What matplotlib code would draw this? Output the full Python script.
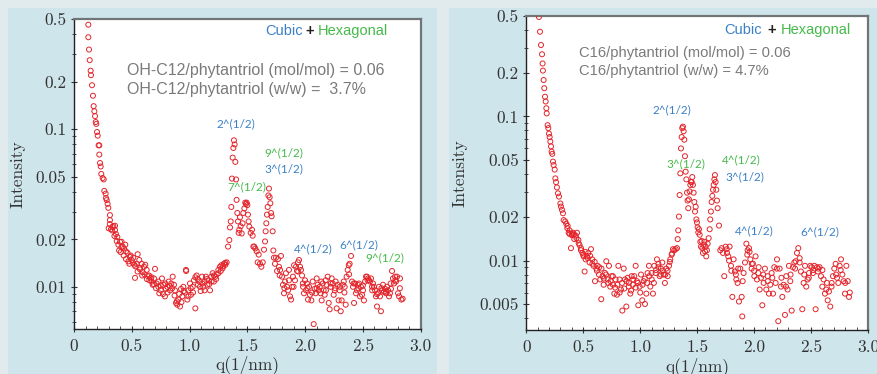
import matplotlib
matplotlib.use("Agg")
import matplotlib.pyplot as plt
from matplotlib.patches import Rectangle
from matplotlib.ticker import FixedLocator, FixedFormatter, LogLocator, MultipleLocator, NullFormatter


# panel 1 : OH-C12 / phytantriol
q1 = [0.124, 0.124, 0.130, 0.136, 0.144, 0.147, 0.156, 0.164, 0.170, 0.176, 0.182, 0.188, 0.193, 0.199,
      0.205, 0.213, 0.219, 0.219, 0.225, 0.231, 0.236, 0.248, 0.257, 0.262, 0.274, 0.277, 0.283, 0.291,
      0.297, 0.311, 0.311, 0.320, 0.332, 0.340, 0.355, 0.355, 0.363, 0.375, 0.384, 0.398, 0.412, 0.404,
      0.421, 0.433, 0.444, 0.450, 0.464, 0.479, 0.485, 0.499, 0.513, 0.522, 0.528, 0.542, 0.551, 0.565,
      0.571, 0.586, 0.594, 0.606, 0.617, 0.629, 0.637, 0.652, 0.663, 0.672, 0.681, 0.692, 0.701, 0.715,
      0.730, 0.738, 0.750, 0.761, 0.773, 0.787, 0.796, 0.808, 0.819, 0.831, 0.842, 0.854, 0.865, 0.874,
      0.883, 0.894, 0.903, 0.917, 0.926, 0.937, 0.946, 0.960, 0.969, 0.981, 0.989, 1.004, 1.012, 1.027,
      1.038, 1.050, 1.061, 1.073, 1.085, 1.096, 1.108, 1.119, 1.131, 1.142, 1.154, 1.165, 1.177, 1.188,
      1.200, 1.211, 1.223, 1.234, 1.249, 1.263, 1.275, 1.286, 1.298, 1.309, 1.321, 1.333, 1.344, 1.350,
      1.356, 1.361, 1.367, 1.373, 1.379, 1.384, 1.390, 1.396, 1.402, 1.407, 1.413, 1.419, 1.425, 1.430,
      1.436, 1.442, 1.451, 1.459, 1.465, 1.474, 1.482, 1.488, 1.494, 1.500, 1.505, 1.511, 1.517, 1.529,
      1.540, 1.546, 1.552, 1.560, 1.569, 1.581, 1.589, 1.598, 1.609, 1.621, 1.633, 1.644, 1.653, 1.658,
      1.664, 1.670, 1.676, 1.682, 1.687, 1.693, 1.699, 1.705, 1.710, 1.719, 1.725, 1.730, 1.739, 1.748,
      1.757, 1.765, 1.774, 1.783, 1.791, 1.800, 1.808, 1.817, 1.826, 1.834, 1.843, 1.852, 1.860, 1.869,
      1.878, 1.886, 1.895, 1.904, 1.912, 1.921, 1.930, 1.938, 1.947, 1.956, 1.964, 1.973, 1.982, 1.990,
      1.999, 2.008, 2.016, 2.025, 2.034, 2.042, 2.054, 2.065, 2.074, 2.083, 2.091, 2.100, 2.108, 2.117,
      2.126, 2.134, 2.143, 2.152, 2.160, 2.169, 2.178, 2.186, 2.195, 2.204, 2.212, 2.221, 2.230, 2.238,
      2.247, 2.256, 2.264, 2.273, 2.281, 2.290, 2.299, 2.308, 2.316, 2.325, 2.334, 2.342, 2.351, 2.359,
      2.368, 2.377, 2.385, 2.397, 2.406, 2.414, 2.423, 2.432, 2.440, 2.449, 2.457, 2.466, 2.475, 2.483,
      2.492, 2.501, 2.509, 2.518, 2.527, 2.535, 2.544, 2.553, 2.561, 2.570, 2.579, 2.587, 2.596, 2.605,
      2.613, 2.622, 2.631, 2.639, 2.648, 2.656, 2.665, 2.674, 2.682, 2.691, 2.700, 2.708, 2.717, 2.726,
      2.734, 2.743, 2.752, 2.760, 2.769, 2.778, 2.786, 2.795, 2.804, 2.813, 2.821, 2.833, 2.844,
      0.30, 0.31, 0.33, 0.35, 0.37, 0.39, 0.41, 0.43, 0.45, 0.47, 0.49, 0.51, 0.53, 0.55, 0.57, 0.59,
      0.61, 0.63, 0.65, 0.67, 0.69, 0.71, 0.73, 0.75, 0.77, 0.79, 0.81, 0.83, 0.85, 0.87, 0.89, 0.91,
      0.93, 0.95, 0.97, 0.99, 1.01, 1.03, 1.05, 1.07, 1.09, 1.11, 1.13, 1.15, 1.17, 1.19, 1.21, 1.23,
      1.25, 1.27, 1.29, 1.31,
      1.78, 1.82, 1.86, 1.90, 1.94, 1.98, 2.02, 2.06, 2.10, 2.14, 2.18, 2.22, 2.26, 2.30, 2.34, 2.38,
      2.42, 2.46, 2.50, 2.54, 2.58, 2.62, 2.66, 2.70, 2.74, 2.78, 2.82]
i1 = [0.46, 0.383, 0.32, 0.274, 0.235, 0.22, 0.19, 0.163, 0.14, 0.13, 0.121, 0.111, 0.108, 0.096,
      0.091, 0.079, 0.079, 0.069, 0.061, 0.058, 0.052, 0.049, 0.048, 0.0406, 0.039, 0.0366, 0.0355, 0.0336,
      0.0317, 0.0285, 0.0265, 0.0232, 0.024, 0.0243, 0.0229, 0.0244, 0.0216, 0.0207, 0.0185, 0.0193, 0.0193, 0.0166,
      0.018, 0.0175, 0.0185, 0.0168, 0.0164, 0.014, 0.0155, 0.0148, 0.0153, 0.0138, 0.0114, 0.014, 0.0161, 0.0148,
      0.0129, 0.014, 0.0124, 0.0134, 0.0138, 0.0128, 0.0117, 0.011, 0.0113, 0.0108, 0.0103, 0.0113, 0.013, 0.0105,
      0.01, 0.0091, 0.0095, 0.0113, 0.0103, 0.0087, 0.0097, 0.01, 0.0108, 0.0095, 0.0105, 0.0116, 0.0103, 0.0095,
      0.0079, 0.0077, 0.0083, 0.0075, 0.0097, 0.0087, 0.01, 0.0092, 0.0128, 0.0083, 0.0095, 0.0105, 0.0089, 0.01,
      0.011, 0.0073, 0.0118, 0.0103, 0.0108, 0.0094, 0.0116, 0.01, 0.0108, 0.0116, 0.0103, 0.011, 0.0095, 0.0116,
      0.0122, 0.0108, 0.0116, 0.012, 0.0128, 0.0134, 0.0137, 0.0131, 0.014, 0.0142, 0.0143, 0.018, 0.0198, 0.0238,
      0.026, 0.0321, 0.0486, 0.066, 0.076, 0.085, 0.08, 0.062, 0.048, 0.0356, 0.0294, 0.026, 0.022, 0.023,
      0.0276, 0.0242, 0.0218, 0.0253, 0.0294, 0.0314, 0.0342, 0.0335, 0.0342, 0.033, 0.0287, 0.026, 0.0241, 0.022,
      0.023, 0.0211, 0.018, 0.018, 0.0175, 0.0168, 0.0143, 0.016, 0.014, 0.0134, 0.0143, 0.0172, 0.0194, 0.0225,
      0.0253, 0.0287, 0.0321, 0.038, 0.042, 0.037, 0.0339, 0.0294, 0.028, 0.0225, 0.017, 0.0153, 0.014, 0.0153,
      0.0126, 0.015, 0.0134, 0.0128, 0.0157, 0.0116, 0.0103, 0.0091, 0.0108, 0.0122, 0.01, 0.0095, 0.0128, 0.0087,
      0.0083, 0.01, 0.0116, 0.0137, 0.011, 0.0134, 0.0126, 0.0143, 0.0148, 0.0134, 0.0128, 0.0118, 0.01, 0.0091,
      0.011, 0.0095, 0.0105, 0.0083, 0.01, 0.0089, 0.0082, 0.0108, 0.0058, 0.0097, 0.0091, 0.0113, 0.0103, 0.0095,
      0.01, 0.0091, 0.0082, 0.0105, 0.0095, 0.0089, 0.011, 0.0103, 0.0116, 0.0079, 0.0072, 0.01, 0.0113, 0.0105,
      0.0089, 0.0095, 0.0108, 0.0073, 0.0103, 0.0082, 0.0095, 0.007, 0.0082, 0.0103, 0.0108, 0.01, 0.0077, 0.0116,
      0.0128, 0.0137, 0.014, 0.0157, 0.0108, 0.01, 0.0079, 0.0105, 0.0091, 0.0095, 0.0103, 0.0105, 0.0087, 0.01,
      0.0089, 0.0095, 0.0082, 0.0108, 0.0116, 0.0116, 0.0113, 0.011, 0.0108, 0.0113, 0.01, 0.0105, 0.01, 0.0095,
      0.0087, 0.0075, 0.0091, 0.01, 0.0087, 0.007, 0.0095, 0.0103, 0.0093, 0.0097, 0.0091, 0.01, 0.0095, 0.0087,
      0.0091, 0.0097, 0.0126, 0.0113, 0.0105, 0.0116, 0.0108, 0.0116, 0.0091, 0.0087, 0.0113, 0.0083, 0.0084,
      0.0235, 0.025, 0.0228, 0.021, 0.0195, 0.017, 0.0178, 0.0158, 0.015, 0.0145, 0.0158, 0.0142, 0.0135, 0.0125, 0.0132, 0.0118,
      0.012, 0.0112, 0.0118, 0.0115, 0.0104, 0.0098, 0.0108, 0.0102, 0.009, 0.0105, 0.0092, 0.0101, 0.0098, 0.0088, 0.0081, 0.009,
      0.008, 0.0094, 0.0126, 0.0087, 0.0098, 0.0092, 0.0115, 0.0112, 0.01, 0.0105, 0.0095, 0.0112, 0.0104, 0.0108, 0.0118, 0.0112,
      0.0122, 0.0126, 0.0135, 0.0138,
      0.0118, 0.0098, 0.011, 0.01, 0.0125, 0.0105, 0.0098, 0.0092, 0.0098, 0.0108, 0.0095, 0.0105, 0.0098, 0.01, 0.0092, 0.012,
      0.0105, 0.0098, 0.0102, 0.011, 0.0095, 0.009, 0.0098, 0.0093, 0.0105, 0.011, 0.0098]

# panel 2 : C16 / phytantriol
q2 = [0.111, 0.120, 0.129, 0.138, 0.143, 0.146, 0.152, 0.158, 0.164, 0.170, 0.176, 0.179, 0.187, 0.193,
      0.199, 0.205, 0.211, 0.217, 0.222, 0.228, 0.234, 0.240, 0.249, 0.255, 0.261, 0.269, 0.278, 0.287,
      0.299, 0.304, 0.313, 0.322, 0.328, 0.342, 0.351, 0.363, 0.372, 0.380, 0.392, 0.401, 0.410, 0.421,
      0.433, 0.445, 0.457, 0.468, 0.480, 0.492, 0.503, 0.512, 0.521, 0.533, 0.544, 0.556, 0.568, 0.579,
      0.591, 0.603, 0.615, 0.626, 0.638, 0.650, 0.658, 0.670, 0.679, 0.691, 0.702, 0.714, 0.726, 0.737,
      0.749, 0.761, 0.773, 0.784, 0.796, 0.808, 0.819, 0.831, 0.843, 0.855, 0.866, 0.878, 0.890, 0.901,
      0.913, 0.925, 0.936, 0.948, 0.960, 0.972, 0.983, 0.995, 1.007, 1.018, 1.030, 1.042, 1.054, 1.065,
      1.077, 1.089, 1.101, 1.112, 1.124, 1.136, 1.147, 1.159, 1.171, 1.182, 1.194, 1.206, 1.217, 1.229,
      1.241, 1.253, 1.264, 1.276, 1.288, 1.299, 1.311, 1.323, 1.329, 1.334, 1.340, 1.346, 1.352, 1.358,
      1.364, 1.369, 1.375, 1.381, 1.387, 1.393, 1.399, 1.405, 1.411, 1.416, 1.422, 1.428, 1.434, 1.440,
      1.446, 1.452, 1.457, 1.463, 1.469, 1.475, 1.481, 1.487, 1.493, 1.498, 1.504, 1.510, 1.516, 1.522,
      1.528, 1.534, 1.539, 1.545, 1.551, 1.557, 1.563, 1.569, 1.574, 1.580, 1.586, 1.592, 1.601, 1.610,
      1.615, 1.621, 1.627, 1.633, 1.639, 1.645, 1.651, 1.656, 1.662, 1.668, 1.674, 1.680, 1.692, 1.703,
      1.715, 1.727, 1.738, 1.750, 1.762, 1.773, 1.785, 1.797, 1.809, 1.820, 1.832, 1.844, 1.855, 1.867,
      1.879, 1.891, 1.896, 1.908, 1.920, 1.932, 1.943, 1.955, 1.967, 1.978, 1.990, 2.002, 2.013, 2.025,
      2.037, 2.049, 2.060, 2.072, 2.084, 2.095, 2.107, 2.119, 2.130, 2.142, 2.154, 2.166, 2.177, 2.189,
      2.201, 2.212, 2.224, 2.236, 2.248, 2.259, 2.271, 2.283, 2.294, 2.306, 2.318, 2.330, 2.341, 2.353,
      2.365, 2.376, 2.388, 2.400, 2.411, 2.423, 2.435, 2.447, 2.458, 2.470, 2.482, 2.493, 2.505, 2.517,
      2.529, 2.540, 2.552, 2.564, 2.575, 2.587, 2.599, 2.610, 2.622, 2.634, 2.646, 2.657, 2.669, 2.681,
      2.692, 2.704, 2.716, 2.728, 2.739, 2.751, 2.763, 2.775, 2.786, 2.798, 2.810, 2.822, 2.833,
      0.36, 0.38, 0.40, 0.42, 0.44, 0.46, 0.48, 0.50, 0.52, 0.54, 0.56, 0.58, 0.60, 0.62, 0.64, 0.66,
      0.68, 0.70, 0.72, 0.74, 0.76, 0.78, 0.80, 0.82, 0.84, 0.86, 0.88, 0.90, 0.92, 0.94, 0.96, 0.98,
      1.00, 1.02, 1.04, 1.06, 1.08, 1.10, 1.12, 1.14, 1.16, 1.18, 1.20, 1.22, 1.24, 1.26, 1.28,
      1.76, 1.78, 1.80, 1.84, 1.86, 1.90, 1.94, 1.96, 1.98, 2.00, 2.04, 2.08, 2.12, 2.16, 2.20, 2.24,
      2.28, 2.32, 2.36, 2.40, 2.44, 2.48, 2.52, 2.56, 2.60, 2.64, 2.68, 2.72, 2.76, 2.80, 2.84]
i2 = [0.49, 0.387, 0.313, 0.27, 0.233, 0.208, 0.179, 0.157, 0.137, 0.127, 0.114, 0.105, 0.087, 0.083,
      0.076, 0.072, 0.067, 0.062, 0.057, 0.055, 0.0486, 0.046, 0.0428, 0.0372, 0.035, 0.0322, 0.0293, 0.0278,
      0.0249, 0.0237, 0.0225, 0.0213, 0.0191, 0.0187, 0.018, 0.0174, 0.0156, 0.0153, 0.0122, 0.0153, 0.0156, 0.0141,
      0.0149, 0.0156, 0.0139, 0.0128, 0.0122, 0.0113, 0.0107, 0.0084, 0.0102, 0.0107, 0.0113, 0.0097, 0.012, 0.0102,
      0.0092, 0.0072, 0.0088, 0.0092, 0.008, 0.0074, 0.0054, 0.0078, 0.0068, 0.0082, 0.0099, 0.0074, 0.0092, 0.0066,
      0.0078, 0.0068, 0.0059, 0.0074, 0.0058, 0.0092, 0.0074, 0.0063, 0.0045, 0.0088, 0.0074, 0.0048, 0.0076, 0.007,
      0.0059, 0.0078, 0.0068, 0.0078, 0.0092, 0.0072, 0.0049, 0.0066, 0.008, 0.0053, 0.0072, 0.005, 0.0059, 0.0082,
      0.0092, 0.0066, 0.0074, 0.0059, 0.0092, 0.0082, 0.0102, 0.009, 0.0078, 0.0088, 0.0097, 0.008, 0.007, 0.0088,
      0.0078, 0.0092, 0.0102, 0.011, 0.012, 0.0118, 0.012, 0.0122, 0.0141, 0.0162, 0.0202, 0.0285, 0.0403, 0.06,
      0.072, 0.083, 0.085, 0.079, 0.069, 0.053, 0.0414, 0.0366, 0.0296, 0.0261, 0.0231, 0.0266, 0.0302, 0.0335,
      0.0351, 0.0351, 0.038, 0.0335, 0.0296, 0.0255, 0.0219, 0.0236, 0.0193, 0.0184, 0.017, 0.0157, 0.0165, 0.0151,
      0.0135, 0.0125, 0.0137, 0.0122, 0.0113, 0.0128, 0.0135, 0.0116, 0.0125, 0.0107, 0.0118, 0.0131, 0.0143, 0.0165,
      0.0193, 0.0219, 0.0255, 0.0281, 0.031, 0.0335, 0.0366, 0.0392, 0.0351, 0.031, 0.0261, 0.0231, 0.0175, 0.0118,
      0.0122, 0.0113, 0.0078, 0.0125, 0.0113, 0.0107, 0.0125, 0.0092, 0.0056, 0.0102, 0.0084, 0.0074, 0.007, 0.0052,
      0.0088, 0.0056, 0.0041, 0.0082, 0.0097, 0.0131, 0.0118, 0.0122, 0.0102, 0.0088, 0.0095, 0.0078, 0.0107, 0.0074,
      0.0082, 0.0063, 0.0076, 0.0049, 0.007, 0.0088, 0.0063, 0.0078, 0.0059, 0.0068, 0.0082, 0.0059, 0.009, 0.007,
      0.0102, 0.0038, 0.0088, 0.0066, 0.0056, 0.0068, 0.0042, 0.0078, 0.0063, 0.0092, 0.0072, 0.0045, 0.009, 0.0097,
      0.0099, 0.0113, 0.0122, 0.0097, 0.0084, 0.0046, 0.007, 0.0092, 0.0066, 0.0074, 0.0082, 0.0092, 0.009, 0.0082,
      0.0092, 0.0046, 0.009, 0.0088, 0.009, 0.0078, 0.0066, 0.0074, 0.0059, 0.0063, 0.0053, 0.0061, 0.0048, 0.007,
      0.0078, 0.0088, 0.0095, 0.0076, 0.007, 0.0092, 0.0102, 0.008, 0.0072, 0.0059, 0.0092, 0.0072, 0.0056,
      0.0168, 0.0162, 0.015, 0.0152, 0.0143, 0.0132, 0.0118, 0.011, 0.0115, 0.0104, 0.0108, 0.0095, 0.0098, 0.0085, 0.009, 0.0088,
      0.0075, 0.008, 0.007, 0.0072, 0.0078, 0.0065, 0.0068, 0.006, 0.007, 0.0064, 0.0072, 0.0066, 0.0062, 0.0074, 0.0065, 0.007,
      0.006, 0.0068, 0.0075, 0.007, 0.0078, 0.0082, 0.007, 0.0086, 0.0095, 0.008, 0.0085, 0.008, 0.0085, 0.0098, 0.0112,
      0.012, 0.01, 0.0085, 0.008, 0.0088, 0.0072, 0.011, 0.0115, 0.0095, 0.0085, 0.009, 0.008, 0.0072, 0.0076, 0.0088, 0.0076,
      0.0066, 0.008, 0.0088, 0.0104, 0.008, 0.0076, 0.0086, 0.0084, 0.0086, 0.007, 0.0066, 0.008, 0.0086, 0.007, 0.006]

# peak labels: (text, q, intensity, colour)
blue = '#3b80c6'
green = '#45b94a'
peaks1 = [('2^(1/2)', 1.40, 0.108, blue), ('9^(1/2)', 1.817, 0.0705, green),
          ('3^(1/2)', 1.817, 0.0558, blue), ('7^(1/2)', 1.497, 0.0429, green),
          ('4^(1/2)', 2.067, 0.0173, blue), ('6^(1/2)', 2.466, 0.0184, blue),
          ('9^(1/2)', 2.69, 0.0152, green)]
peaks2 = [('2^(1/2)', 1.282, 0.111, blue), ('3^(1/2)', 1.405, 0.0468, green),
          ('4^(1/2)', 1.885, 0.0504, green), ('3^(1/2)', 1.920, 0.0382, blue),
          ('4^(1/2)', 2.002, 0.0161, blue), ('6^(1/2)', 2.575, 0.0159, blue)]

ratio1 = ['OH-C12/phytantriol (mol/mol) = 0.06', 'OH-C12/phytantriol (w/w) =  3.7%']
ratio2 = ['C16/phytantriol (mol/mol) = 0.06', 'C16/phytantriol (w/w) = 4.7%']

yticks1 = [0.01, 0.02, 0.05, 0.1, 0.2, 0.5]
yticks2 = [0.005, 0.01, 0.02, 0.05, 0.1, 0.2, 0.5]
xticks = [0, 0.5, 1.0, 1.5, 2.0, 2.5, 3.0]
xticklabels = ['0', '0.5', '1.0', '1.5', '2.0', '2.5', '3.0']


W, H = 877, 374
fig = plt.figure(figsize=(W / 100, H / 100), dpi=100)
fig.patch.set_facecolor('#e1ebed')

# slide panels behind the plots
for x0, x1 in [(8, 437), (449, 877)]:
    fig.patches.append(Rectangle((x0 / W, 0), (x1 - x0) / W, (H - 8) / H,
                                 transform=fig.transFigure, facecolor='#cfe5ec',
                                 edgecolor='none', zorder=-10))

serif = 'cmr10'
sans = 'Liberation Sans'
small = 'Lato'


def setup(ax, yticks, ylim, ylab_x, xlab_y):
    ax.set_yscale('log')
    ax.set_xlim(0, 3.0)
    ax.set_ylim(*ylim)
    ax.set_facecolor('white')
    ax.yaxis.set_major_locator(FixedLocator(yticks))
    ax.yaxis.set_major_formatter(FixedFormatter([('%g' % t) for t in yticks]))
    ax.yaxis.set_minor_locator(LogLocator(base=10, subs=range(2, 10)))
    ax.yaxis.set_minor_formatter(NullFormatter())
    ax.xaxis.set_major_locator(FixedLocator(xticks))
    ax.xaxis.set_major_formatter(FixedFormatter(xticklabels))
    ax.xaxis.set_minor_locator(MultipleLocator(0.1))
    ax.tick_params(axis='y', which='major', direction='inout', length=5, width=0.8,
                   color='#333333', labelsize=12.5, labelcolor='#333333', pad=3)
    ax.tick_params(axis='y', which='minor', direction='inout', length=3, width=0.6, color='#333333')
    ax.tick_params(axis='x', which='major', direction='inout', length=4, width=0.8,
                   color='#333333', labelsize=12.5, labelcolor='#333333', pad=5)
    ax.tick_params(axis='x', which='minor', direction='in', length=2.5, width=0.6, color='#333333')
    for lab in ax.get_xticklabels() + ax.get_yticklabels():
        lab.set_fontfamily(serif)
    for s in ['left', 'bottom']:
        ax.spines[s].set_color('#222222')
        ax.spines[s].set_linewidth(1.0)
    for s in ['top', 'right']:
        ax.spines[s].set_color('#707575')
        ax.spines[s].set_linewidth(1.6)
    ax.set_ylabel('Intensity', fontfamily=serif, fontsize=12.5, color='#333333')
    ax.set_xlabel('q(1/nm)', fontfamily=serif, fontsize=12.5, color='#333333')
    ax.yaxis.set_label_coords(ylab_x, 0.5)
    ax.xaxis.set_label_coords(0.5, xlab_y)


def draw(ax, q, inten, peaks, ratio, ratio_pos, ratio_size, phase_pos):
    ax.scatter(q, inten, s=13, facecolors='none', edgecolors='#e4252b', linewidths=0.7, zorder=3)
    for txt, x, y, c in peaks:
        ax.text(x, y, txt, color=c, fontsize=8.5, fontfamily=small, ha='center', va='center', zorder=4)
    rx, ry1, ry2 = ratio_pos
    ax.text(rx, ry1, ratio[0], transform=ax.transAxes, color='#7a7a7a', fontsize=ratio_size,
            fontfamily=sans, va='center')
    ax.text(rx, ry2, ratio[1], transform=ax.transAxes, color='#7a7a7a', fontsize=ratio_size,
            fontfamily=sans, va='center')
    cx, px, hx, py = phase_pos
    ax.text(cx, py, 'Cubic', transform=ax.transAxes, color=blue, fontsize=10.5, fontfamily=sans, va='center')
    ax.text(px, py, '+', transform=ax.transAxes, color='#222222', fontsize=10.5, fontfamily=sans,
            va='center', ha='center', fontweight='bold')
    ax.text(hx, py, 'Hexagonal', transform=ax.transAxes, color=green, fontsize=10.5, fontfamily=sans, va='center')


ax1 = fig.add_axes([74 / W, 1 - 329 / H, 346.7 / W, 310 / H])
setup(ax1, yticks1, (0.0054, 0.5), -0.141, -0.085)
draw(ax1, q1, i1, peaks1, ratio1, (0.153, 0.835, 0.774), 11.5, (0.552, 0.679, 0.704, 0.961))

ax2 = fig.add_axes([526.3 / W, 1 - 330 / H, 341.7 / W, 314.3 / H])
setup(ax2, yticks2, (0.0033, 0.5), -0.173, -0.086)
draw(ax2, q2, i2, peaks2, ratio2, (0.154, 0.881, 0.824), 10.6, (0.58, 0.717, 0.745, 0.955))

# the screenshot crops the top strip
fig.patches.append(Rectangle((0, (H - 8) / H), 1, 8 / H, transform=fig.transFigure,
                             facecolor='#e1ebed', edgecolor='none', zorder=20))

fig.savefig('out.png', dpi=100, facecolor=fig.get_facecolor())
